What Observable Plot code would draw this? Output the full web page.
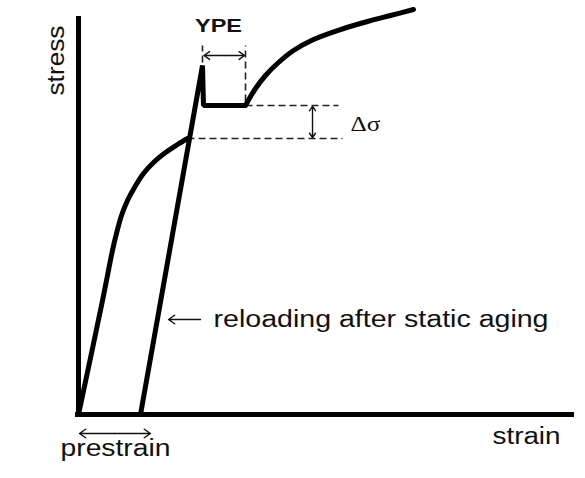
<!DOCTYPE html>
<html>
<head>
<meta charset="utf-8">
<script src="https://cdn.jsdelivr.net/npm/d3@7"></script>
<script src="https://cdn.jsdelivr.net/npm/@observablehq/plot@0.6"></script>
<style>
  html, body { margin: 0; padding: 0; background: #fff; }
  #chart svg { display: block; }
</style>
</head>
<body>
<div id="chart"></div>
<script>
// Schematic values (arbitrary units: strain 0–100, stress 0–100)
const prestrainStrain = [0, 4.76, 6.85, 7.66, 8.67, 9.88, 11.29, 13.10, 15.12, 17.54, 19.96, 21.98];
const prestrainStress = [0, 28.14, 41.21, 45.48, 50.0, 53.77, 57.04, 60.55, 63.32, 65.83, 67.84, 69.35];

const reloadStrain = [12.5, 25.0, 25.2, 33.67];
const reloadStress = [0, 87.69, 77.64, 77.64];

const hardeningStrain = [33.67, 35.69, 37.70, 40.32, 43.35, 47.38, 52.82, 58.27, 62.90, 67.54];
const hardeningStress = [77.64, 81.91, 85.18, 88.44, 91.46, 94.22, 96.73, 98.74, 100.25, 101.76];

// reference levels
const upperYieldLevel = 77.64;   // lower yield plateau after aging
const flowStressLevel = 69.35;   // flow stress at end of prestrain
const peakStrain = 25.0;
const plateauEndStrain = 33.67;

// dashed guide segments
const guides = [
  {x1: peakStrain, y1: 88.44, x2: peakStrain, y2: 92.71},
  {x1: plateauEndStrain, y1: 78.64, x2: plateauEndStrain, y2: 92.71},
  {x1: plateauEndStrain, y1: upperYieldLevel, x2: 52.42, y2: upperYieldLevel},
  {x1: 21.98, y1: flowStressLevel, x2: 53.23, y2: flowStressLevel}
];

// arrows (head at x2,y2)
const arrows = [
  {x1: 29.4, y1: 90.2, x2: 25.3, y2: 90.2},
  {x1: 29.4, y1: 90.2, x2: 33.5, y2: 90.2},
  {x1: 47.18, y1: 73.5, x2: 47.18, y2: 77.4},
  {x1: 47.18, y1: 73.5, x2: 47.18, y2: 69.6},
  {x1: 24.6, y1: 23.87, x2: 18.15, y2: 23.87},
  {x1: 7.3, y1: -4.77, x2: 0.2, y2: -4.77},
  {x1: 7.3, y1: -4.77, x2: 14.5, y2: -4.77}
];

const sansLabels = [
  {text: "reloading after static aging", x: 27.22, y: 21.86},
  {text: "strain", x: 83.47, y: -7.29},
  {text: "prestrain", x: -3.63, y: -10.55}
];
const stressLabel = [{text: "stress", x: -3.02, y: 88.94}];
const ypeLabel = [{text: "YPE", x: 28.23, y: 96.23}];
const deltaLabel = [{text: "Δσ", x: 54.84, y: 71.11}];

const axisXLine = [{x1: -0.6, x2: 100, y: 0}];
const axisYLine = [{x: 0, y1: -0.75, y2: 100}];

// text widths to match the reference's stretched lettering
const textWidths = {
  "reloading after static aging": 335,
  "strain": 68,
  "prestrain": 110,
  "stress": 70,
  "YPE": 47,
  "Δσ": 30
};

const prestrain = prestrainStrain.map((x, i) => ({x, y: prestrainStress[i]}));
const reload = reloadStrain.map((x, i) => ({x, y: reloadStress[i]}));
const hardening = hardeningStrain.map((x, i) => ({x, y: hardeningStress[i]}));

const chart = Plot.plot({
  width: 585,
  height: 478,
  x: {domain: [0, 100], range: [78, 574], axis: null},
  y: {domain: [0, 100], range: [414, 16], axis: null},
  style: {background: "#fff", overflow: "visible"},
  marks: [
    Plot.link(guides, {x1: "x1", y1: "y1", x2: "x2", y2: "y2", stroke: "#222", strokeWidth: 1.6, strokeDasharray: "7,4"}),
    Plot.ruleY(axisXLine, {y: "y", x1: "x1", x2: "x2", stroke: "#000", strokeWidth: 5, strokeLinecap: "butt"}),
    Plot.ruleX(axisYLine, {x: "x", y1: "y1", y2: "y2", stroke: "#000", strokeWidth: 5, strokeLinecap: "butt"}),
    Plot.line(prestrain, {x: "x", y: "y", curve: "catmull-rom", stroke: "#000", strokeWidth: 5}),
    Plot.line(reload, {x: "x", y: "y", curve: "linear", stroke: "#000", strokeWidth: 5, strokeLinejoin: "miter", strokeLinecap: "butt"}),
    Plot.line(hardening, {x: "x", y: "y", curve: "catmull-rom", stroke: "#000", strokeWidth: 5}),
    Plot.arrow(arrows, {x1: "x1", y1: "y1", x2: "x2", y2: "y2", stroke: "#111", strokeWidth: 1.4, headLength: 8, headAngle: 70}),
    Plot.text(sansLabels, {x: "x", y: "y", text: "text", textAnchor: "start", lineAnchor: "bottom", fontFamily: "Liberation Sans, Arial, sans-serif", fontSize: 23, fill: "#111"}),
    Plot.text(stressLabel, {x: "x", y: "y", text: "text", rotate: -90, textAnchor: "middle", lineAnchor: "bottom", fontFamily: "Liberation Sans, Arial, sans-serif", fontSize: 23, fill: "#111"}),
    Plot.text(ypeLabel, {x: "x", y: "y", text: "text", textAnchor: "middle", lineAnchor: "bottom", fontFamily: "Liberation Sans, Arial, sans-serif", fontWeight: "bold", fontSize: 18, fill: "#111"}),
    Plot.text(deltaLabel, {x: "x", y: "y", text: "text", textAnchor: "start", lineAnchor: "bottom", fontFamily: "Liberation Serif, Times New Roman, serif", fontSize: 21, fill: "#111"})
  ]
});

d3.select(chart).selectAll("text").each(function() {
  const t = this.textContent;
  if (textWidths[t] != null) {
    d3.select(this).attr("textLength", textWidths[t]).attr("lengthAdjust", "spacingAndGlyphs");
  }
});

document.getElementById("chart").appendChild(chart);
</script>
</body>
</html>
